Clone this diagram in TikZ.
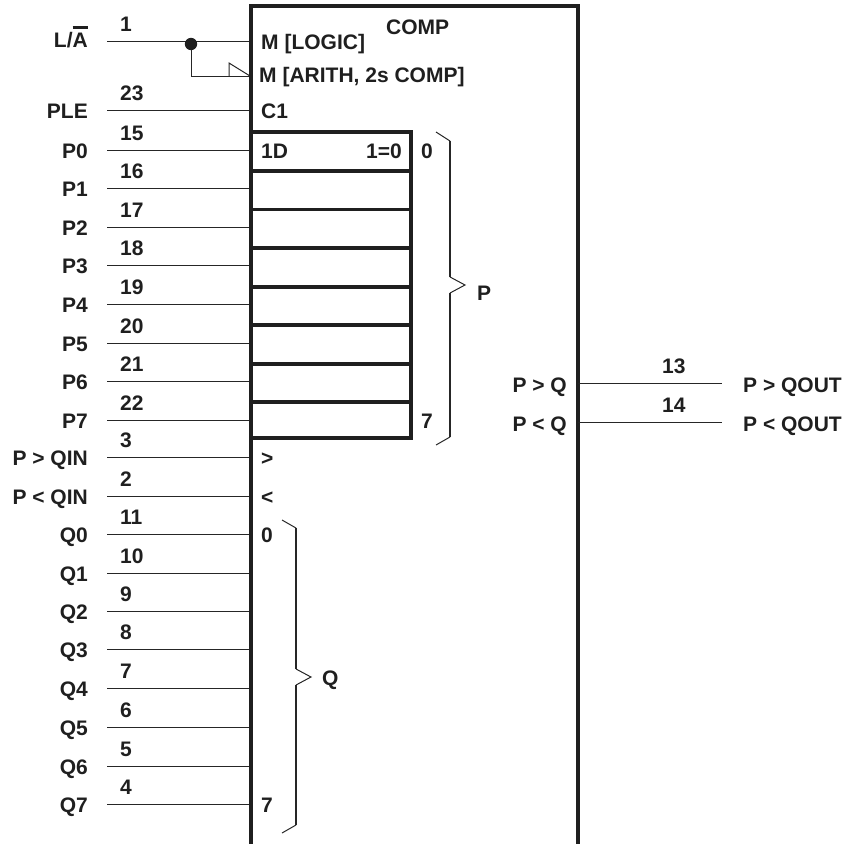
\documentclass[tikz,border=0pt]{standalone}
\usepackage{fontspec}
\setmainfont{Liberation Sans}
\tikzset{
  lab/.style={inner sep=0pt,font=\fontsize{21}{23}\selectfont\bfseries,text=black!88},
  wire/.style={line width=1pt,black!85},
  heavy/.style={line width=3.2pt,black!88,line cap=rect},
  brace/.style={line width=1.8pt,black!85},
  tip/.style={line width=1pt,black!85}
}
\newcommand{\barA}{\makebox[0pt][l]{\rule[19pt]{15pt}{2.5pt}}A}
\begin{document}
\begin{tikzpicture}[x=1pt,y=-1pt]
\useasboundingbox (0,0) rectangle (845,843);
\foreach \nm/\txt/\pin/\yy/\off in {LA/{L/\barA}/1/42/6,PLE/PLE/23/110/8,P0/P0/15/150/8,P1/P1/16/188/8,P2/P2/17/227/8,P3/P3/18/265/8,P4/P4/19/304/8,P5/P5/20/343/8,P6/P6/21/381/8,P7/P7/22/420/8,GT/P > QIN/3/457/8,LT/P < QIN/2/496/8,Q0/Q0/11/534/8,Q1/Q1/10/573/8,Q2/Q2/9/611/8,Q3/Q3/8/649/8,Q4/Q4/7/688/8,Q5/Q5/6/727/8,Q6/Q6/5/766/8,Q7/Q7/4/804/8}{
  \coordinate (w\nm) at (107,\yy); \coordinate (e\nm) at (251,\yy);
  \draw[wire] (w\nm) -- (e\nm);
  \node[lab,anchor=base east] (l\nm) at (88,\yy+\off) {\txt};
  \node[lab,anchor=base west] (n\nm) at (120,\yy-10) {\pin};
}
\coordinate (jn) at (191,44); \coordinate (jc) at (191,76); \coordinate (ar) at (250,76);
\draw[wire] (jn) -- (jc) -- (ar);
\draw[wire] (229,76) -- (229,63) -- (ar);
\fill[black!88] (jn) circle [radius=6.2];
\draw[heavy] (251,843) -- (251,6) -- (578,6) -- (578,843);
\draw[heavy] (251,132) rectangle (411,438);
\foreach \yy in {171,209.5,248,287,325,364,402}{ \draw[heavy] (251,\yy) -- (411,\yy); }
\draw[brace] (450,141) -- (450,277); \draw[brace] (450,293) -- (450,437);
\draw[tip] (436,132) -- (450,141); \draw[tip] (450,277) -- (465,285) -- (450,293); \draw[tip] (450,437) -- (436,445);
\draw[brace] (296,528) -- (296,669); \draw[brace] (296,685) -- (296,825);
\draw[tip] (282,520) -- (296,528); \draw[tip] (296,669) -- (311,677) -- (296,685); \draw[tip] (296,825) -- (282,833);
\node[lab,anchor=base west] (comp) at (386,35) {COMP};
\node[lab,anchor=base west] (mlog) at (261,50) {M [LOGIC]};
\node[lab,anchor=base west] (marith) at (259,82) {M [ARITH, 2s COMP]};
\node[lab,anchor=base west] (cone) at (261,118) {C1};
\node[lab,anchor=base west] (oned) at (261,158) {1D};
\node[lab,anchor=base east] (oneq) at (402,158) {1=0};
\node[lab,anchor=base west] (pzero) at (421,158) {0};
\node[lab,anchor=base west] (pseven) at (421,428) {7};
\node[lab,anchor=base west] (bpgt) at (261,465) {>};
\node[lab,anchor=base west] (bplt) at (261,504) {<};
\node[lab,anchor=base west] (qzero) at (261,542) {0};
\node[lab,anchor=base west] (qseven) at (261,812) {7};
\node[lab,anchor=base west] (bp) at (477,300) {P};
\node[lab,anchor=base west] (bq) at (322,685) {Q};
\coordinate (ogt) at (578,383); \coordinate (ogte) at (722,383);
\coordinate (olt) at (578,422); \coordinate (olte) at (722,422);
\draw[wire] (ogt) -- (ogte); \draw[wire] (olt) -- (olte);
\node[lab,anchor=base east] (igt) at (567,392) {P > Q};
\node[lab,anchor=base east] (ilt) at (567,431) {P < Q};
\node[lab,anchor=base west] (pgt) at (662,373) {13};
\node[lab,anchor=base west] (plt) at (662,412) {14};
\node[lab,anchor=base west] (tgt) at (743,392) {P > QOUT};
\node[lab,anchor=base west] (tlt) at (743,431) {P < QOUT};
\end{tikzpicture}
\end{document}
